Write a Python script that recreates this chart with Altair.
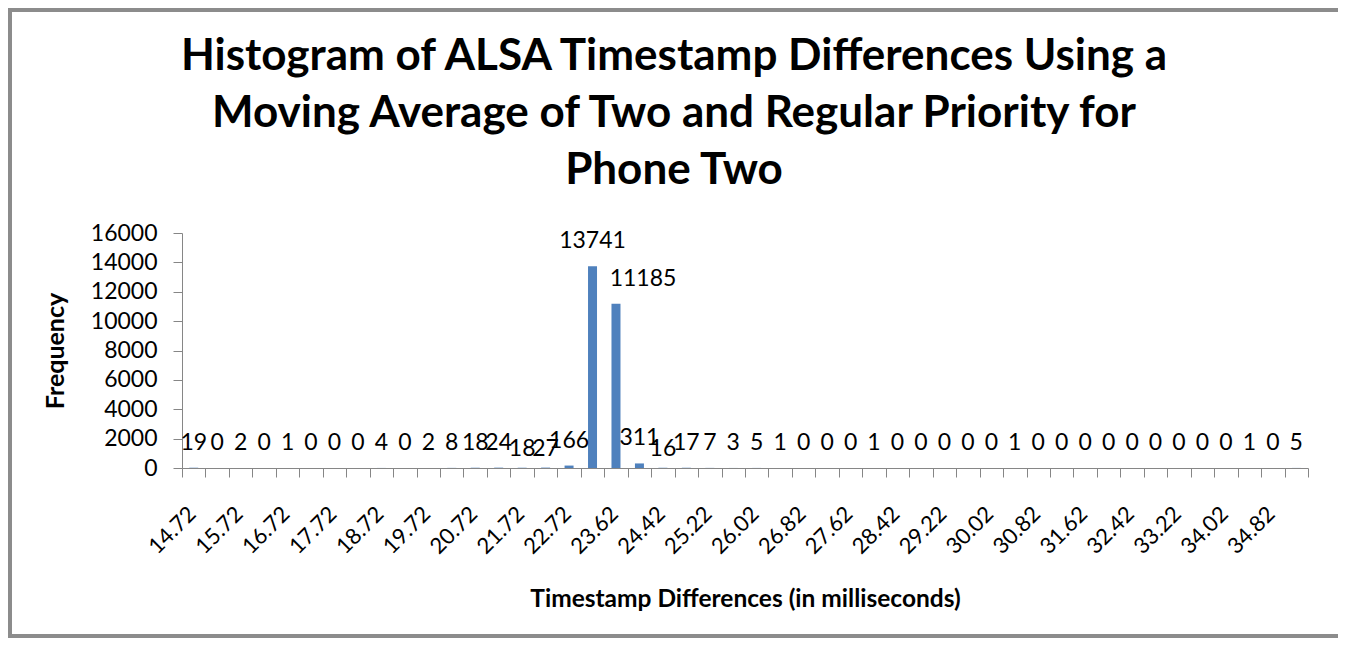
import altair as alt
import pandas as pd

# Histogram bins (category keys) and frequencies
bins = ["14.72", "15.22", "15.72", "16.22", "16.72", "17.22", "17.72", "18.22",
        "18.72", "19.22", "19.72", "20.22", "20.72", "21.22", "21.72", "22.22",
        "22.72", "23.17", "23.62", "24.02", "24.42", "24.82", "25.22", "25.62",
        "26.02", "26.42", "26.82", "27.22", "27.62", "28.02", "28.42", "28.82",
        "29.22", "29.62", "30.02", "30.42", "30.82", "31.22", "31.62", "32.02",
        "32.42", "32.82", "33.22", "33.62", "34.02", "34.42", "34.82", "35.22"]
counts = [19, 0, 2, 0, 1, 0, 0, 0, 4, 0, 2, 8, 18, 24, 18, 27,
          166, 13741, 11185, 311, 16, 17, 7, 3, 5, 1, 0, 0, 0, 1, 0, 0,
          0, 0, 0, 1, 0, 0, 0, 0, 0, 0, 0, 0, 0, 1, 0, 5]
# tick labels that are shown on the category axis
shown_labels = ["14.72", "15.72", "16.72", "17.72", "18.72", "19.72", "20.72",
                "21.72", "22.72", "23.62", "24.42", "25.22", "26.02", "26.82",
                "27.62", "28.42", "29.22", "30.02", "30.82", "31.62", "32.42",
                "33.22", "34.02", "34.82"]
y_ticks = [0, 2000, 4000, 6000, 8000, 10000, 12000, 14000, 16000]

title_lines = ["Histogram of ALSA Timestamp Differences Using a",
               "Moving Average of Two and Regular Priority for",
               "Phone Two"]

# data labels that sit a little lower / further right in the original chart
lowered_bins = ["21.72", "22.22", "24.42"]
shifted_bins = ["23.62"]

df = pd.DataFrame({"bin": bins, "count": counts})
one_row = pd.DataFrame({"k": [0]})

FONT = "Lato"
AXIS_GRAY = "#868686"
W, H = 1126, 235
PAD = {"left": 174, "top": 225, "right": 30, "bottom": 170}


def js_list(items):
    return "[" + ",".join("'%s'" % s for s in items) + "]"


label_expr = "indexof(%s, datum.value) >= 0 ? datum.label : ''" % js_list(shown_labels)

x_enc = alt.X(
    "bin:N", sort=bins,
    scale=alt.Scale(paddingInner=0, paddingOuter=0),
    axis=alt.Axis(
        title="Timestamp Differences (in milliseconds)",
        labelAngle=-45, labelExpr=label_expr, labelOverlap=False,
        tickBand="extent", tickSize=9, labelPadding=26, labelOffset=-9,
        labelFontSize=22, labelFont=FONT, labelColor="#000000",
        titleFont=FONT, titleFontSize=24.5, titleFontWeight="bold",
        titleColor="#000000", titlePadding=30,
        domainColor=AXIS_GRAY, tickColor=AXIS_GRAY,
    ),
)
y_enc = alt.Y(
    "count:Q",
    scale=alt.Scale(domain=[0, 16000], nice=False),
    axis=alt.Axis(
        title="Frequency", values=y_ticks, grid=False, format="d",
        labelOverlap=False, tickSize=9, labelPadding=16,
        labelFontSize=23, labelFont=FONT, labelColor="#000000",
        titleFont=FONT, titleFontSize=25, titleFontWeight="bold",
        titleColor="#000000", titlePadding=22,
        domainColor=AXIS_GRAY, tickColor=AXIS_GRAY,
    ),
)

bars = alt.Chart(df).mark_bar(size=9, color="#4F81BD").encode(x=x_enc, y=y_enc)

special = lowered_bins + shifted_bins
text_style = dict(font=FONT, fontSize=23, color="#000000", baseline="alphabetic")
labels = alt.Chart(df).transform_filter(
    "indexof(%s, datum.bin) < 0" % js_list(special)
).mark_text(dy=-18, **text_style).encode(x=x_enc, y=y_enc, text=alt.Text("count:Q"))
labels_low = alt.Chart(df).transform_filter(
    "indexof(%s, datum.bin) >= 0" % js_list(lowered_bins)
).mark_text(dy=-12, **text_style).encode(x=x_enc, y=y_enc, text=alt.Text("count:Q"))
labels_shift = alt.Chart(df).transform_filter(
    "indexof(%s, datum.bin) >= 0" % js_list(shifted_bins)
).mark_text(dy=-18, dx=27, **text_style).encode(x=x_enc, y=y_enc, text=alt.Text("count:Q"))

# chart title drawn as a multi-line text mark
title = alt.Chart(one_row).mark_text(
    font=FONT, fontSize=44, fontWeight="bold", color="#000000",
    align="center", baseline="alphabetic", lineHeight=57,
).encode(x=alt.value(674 - 182), y=alt.value(-163), text=alt.value(title_lines))

# chart-area frame (left, top, bottom edges)
frame_top = alt.Chart(one_row).mark_rule(color="#8c8c8c", strokeWidth=4).encode(
    x=alt.value(-PAD["left"]), x2=alt.value(W + PAD["right"]), y=alt.value(-PAD["top"] + 2))
frame_left = alt.Chart(one_row).mark_rule(color="#8c8c8c", strokeWidth=4).encode(
    x=alt.value(-PAD["left"] + 2), y=alt.value(-PAD["top"]), y2=alt.value(H + PAD["bottom"]))
frame_bottom = alt.Chart(one_row).mark_rule(color="#8c8c8c", strokeWidth=4).encode(
    x=alt.value(-PAD["left"]), x2=alt.value(W + PAD["right"]), y=alt.value(H + PAD["bottom"] - 2))

chart = alt.layer(bars, labels, labels_low, labels_shift, title,
                  frame_top, frame_left, frame_bottom).properties(
    width=W, height=H,
    autosize=alt.AutoSizeParams(type="none"),
    padding=PAD,
    background="white",
).configure_view(stroke=None)

chart.save("out.html", embed_options={"renderer": "svg", "actions": False})
